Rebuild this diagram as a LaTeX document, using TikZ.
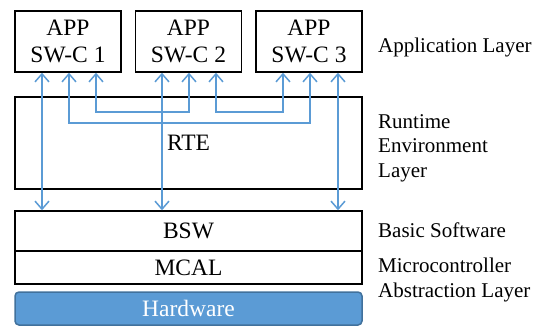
\documentclass[tikz,border=0pt]{standalone}
\usepackage{fontspec}
\setmainfont{Liberation Serif}
\usetikzlibrary{arrows.meta}
\definecolor{arr}{HTML}{5B9BD5}
\definecolor{hwfill}{HTML}{5B9BD5}
\definecolor{hwdraw}{HTML}{41719C}
\begin{document}
\begin{tikzpicture}[x=1pt,y=-1pt,
  box/.style={draw=black,line width=1.5pt,inner sep=0pt,align=center,font=\fontsize{23.5}{27}\selectfont},
  lbl/.style={anchor=base west,align=left,inner sep=0pt,font=\fontsize{21}{24.5}\selectfont},
  conn/.style={draw=arr,line width=1.5pt,{Straight Barb[length=8pt,width=14pt]}-{Straight Barb[length=8pt,width=14pt]}}]
\useasboundingbox (0,0) rectangle (542,327);
\node[box,minimum width=106pt,minimum height=61pt] (app1) at (68,41.5) {APP\\SW-C 1};
\node[box,minimum width=106pt,minimum height=61pt] (app2) at (188.5,41.5) {APP\\SW-C 2};
\node[box,minimum width=106pt,minimum height=61pt] (app3) at (309,41.5) {APP\\SW-C 3};
\node[box,minimum width=347pt,minimum height=92pt] (rte) at (188.5,143) {RTE};
\node[box,minimum width=347pt,minimum height=40pt] (bsw) at (188.5,231) {BSW};
\node[box,minimum width=347pt,minimum height=33pt] (mcal) at (188.5,267.5) {MCAL};
\node[box,draw=hwdraw,fill=hwfill,text=white,rounded corners=4pt,minimum width=347pt,minimum height=33pt] (hw) at (188.5,308.5) {Hardware};
% connectors
\coordinate (a1) at (42,0);
\coordinate (a2) at (162,0);
\coordinate (a3) at (338,0);
\draw[conn] (app1.south -| a1) -- (bsw.north -| a1);
\draw[conn] (app2.south -| a2) -- (bsw.north -| a2);
\draw[conn] (app3.south -| a3) -- (bsw.north -| a3);
\coordinate (b1) at (96,112);
\coordinate (b2) at (189,112);
\draw[conn] (app1.south -| b1) -- (b1) -- (b2) -- (app2.south -| b2);
\coordinate (c1) at (216,112);
\coordinate (c2) at (283,112);
\draw[conn] (app2.south -| c1) -- (c1) -- (c2) -- (app3.south -| c2);
\coordinate (d1) at (69,123);
\coordinate (d2) at (310,123);
\draw[conn] (app1.south -| d1) -- (d1) -- (d2) -- (app3.south -| d2);
% labels
\node[lbl] (l1) at (378,52) {Application Layer};
\node[lbl] (l2) at (378,177) {Runtime\\Environment\\Layer};
\node[lbl] (l3) at (378,237) {Basic Software};
\node[lbl] (l4) at (378,297) {Microcontroller\\Abstraction Layer};
\end{tikzpicture}
\end{document}
